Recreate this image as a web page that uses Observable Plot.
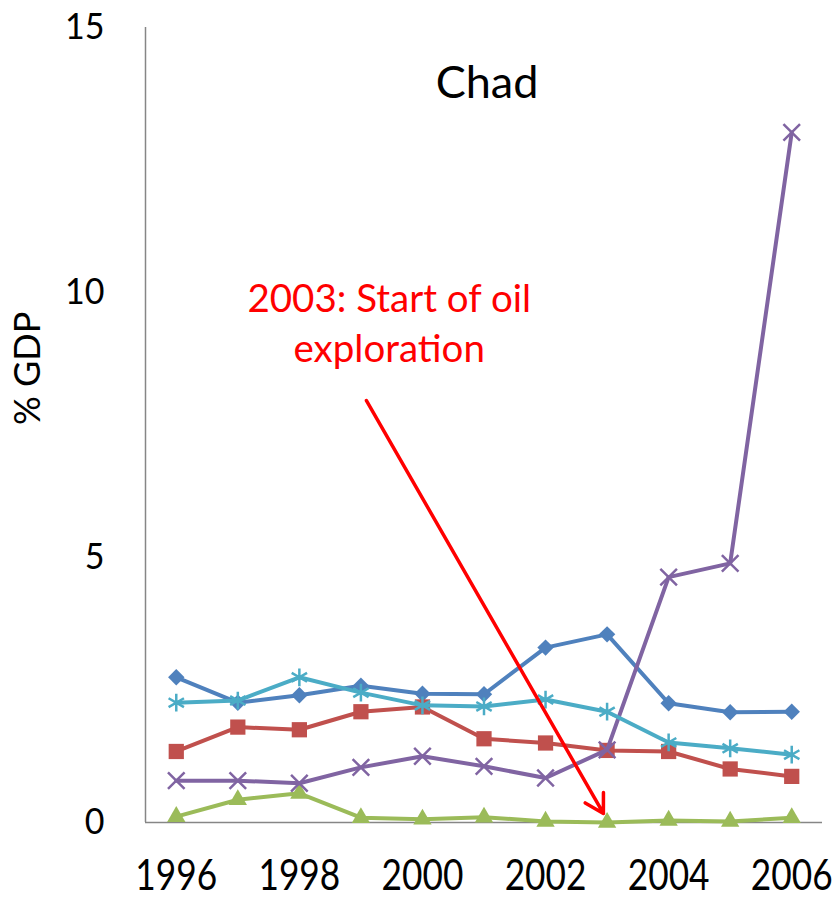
<!DOCTYPE html>
<html><head><meta charset="utf-8">
<script src="https://cdn.jsdelivr.net/npm/d3@7"></script>
<script src="https://cdn.jsdelivr.net/npm/@observablehq/plot@0.6"></script>
<style>body{margin:0;background:#fff} svg{display:block}</style>
</head><body><div id="chart"></div>
<script>
const years = [1996, 1997, 1998, 1999, 2000, 2001, 2002, 2003, 2004, 2005, 2006];
const seriesBlue   = [2.74, 2.26, 2.40, 2.58, 2.43, 2.42, 3.30, 3.55, 2.25, 2.08, 2.09];
const seriesRed    = [1.34, 1.80, 1.75, 2.09, 2.18, 1.58, 1.50, 1.36, 1.34, 1.01, 0.87];
const seriesGreen  = [0.11, 0.43, 0.55, 0.09, 0.06, 0.10, 0.02, 0.00, 0.04, 0.02, 0.09];
const seriesPurple = [0.79, 0.79, 0.74, 1.04, 1.25, 1.06, 0.84, 1.37, 4.63, 4.89, 13.02];
const seriesCyan   = [2.26, 2.30, 2.74, 2.45, 2.21, 2.19, 2.32, 2.09, 1.51, 1.40, 1.28];
const xTicks = [1996, 1998, 2000, 2002, 2004, 2006];
const yTicks = [0, 5, 10, 15];
const titleText = "Chad";
const yLabel = "% GDP";
const noteLines = ["2003: Start of oil", "exploration"];
const noteX = [1999.46, 1999.46];
const noteY = [9.87, 8.92];
const arrowFrom = [1999.09, 7.96];
const arrowTo = [2002.94, 0.17];

const series = [
  {values: seriesBlue, color: "#4F81BD", symbol: "diamond2", r: 7.4, filled: true},
  {values: seriesRed, color: "#C0504D", symbol: "square", r: 8.6, filled: true},
  {values: seriesGreen, color: "#9BBB59", symbol: "triangle", r: 6.8, filled: true},
  {values: seriesPurple, color: "#8064A2", symbol: "times", r: 7.6, filled: false},
  {values: seriesCyan, color: "#4BACC6", symbol: "asterisk", r: 8.4, filled: false}
];

const marks = [
  Plot.ruleY([0], {stroke: "#868686", strokeWidth: 1.5}),
  Plot.ruleX([1995.5], {y1: 0, y2: 15, stroke: "#868686", strokeWidth: 1.5}),
  Plot.axisX({ticks: xTicks, tickSize: 0, tickPadding: 38, fontSize: 42, tickFormat: d => String(d), label: null}),
  Plot.axisY({ticks: yTicks, tickSize: 0, tickPadding: 41, fontSize: 37, label: null})
];
for (const s of series) {
  const data = years.map((x, i) => ({x, y: s.values[i]}));
  marks.push(Plot.line(data, {x: "x", y: "y", stroke: s.color, strokeWidth: 4}));
  marks.push(Plot.dot(data, s.filled
    ? {x: "x", y: "y", symbol: s.symbol, r: s.r, fill: s.color, stroke: "none"}
    : {x: "x", y: "y", symbol: s.symbol, r: s.r, stroke: s.color, strokeWidth: 2.5, fill: "none"}));
}
marks.push(Plot.arrow([{x1: arrowFrom[0], y1: arrowFrom[1], x2: arrowTo[0], y2: arrowTo[1]}],
  {x1: "x1", y1: "y1", x2: "x2", y2: "y2", stroke: "#FF0000", strokeWidth: 3.5, headLength: 9, headAngle: 60, bend: 0}));
marks.push(Plot.text(noteLines.map((t, i) => ({t, x: noteX[i], y: noteY[i]})),
  {x: "x", y: "y", text: "t", fill: "#FF0000", fontSize: 38.5, textAnchor: "middle", lineAnchor: "middle"}));
marks.push(Plot.text([titleText], {frameAnchor: "top", dx: 3, dy: 56, fontSize: 45, fill: "black", lineAnchor: "middle"}));
marks.push(Plot.text([yLabel], {frameAnchor: "left", dx: -117, rotate: -90, fontSize: 36, fill: "black", lineAnchor: "middle"}));

const chart = Plot.plot({
  width: 837, height: 898,
  marginLeft: 145, marginRight: 15, marginTop: 27, marginBottom: 76,
  style: {fontFamily: "Lato, 'Open Sans', sans-serif", background: "white", color: "black"},
  x: {domain: [1995.5, 2006.5]},
  y: {domain: [0, 15]},
  marks
});
document.getElementById("chart").appendChild(chart);

function squeeze(sel, k) {
  d3.select(chart).selectAll(sel).each(function() {
    const t = this.getAttribute("transform");
    if (t) this.setAttribute("transform", t + ` scale(${k},1)`);
    else {
      const x = +this.getAttribute("x") || 0;
      this.setAttribute("transform", `translate(${x},0) scale(${k},1) translate(${-x},0)`);
    }
  });
}
squeeze('g[aria-label="x-axis tick label"] text', 0.84);
squeeze('g[aria-label="y-axis tick label"] text', 0.92);
</script></body></html>
